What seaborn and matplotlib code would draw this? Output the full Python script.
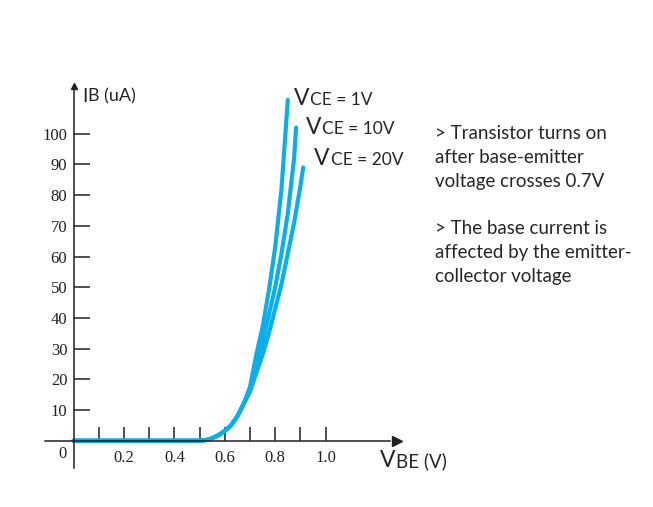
import numpy as np
import pandas as pd
import matplotlib
matplotlib.use("Agg")
import matplotlib.pyplot as plt
import seaborn as sns

# -------------------------------------------------------------------
# data (VBE in V, IB in uA)
# -------------------------------------------------------------------
vbe_start = [0.0, 0.5, 0.525, 0.55, 0.575, 0.6, 0.625, 0.65, 0.675]
ib_start = [0.0, 0.0, 0.2, 0.8, 1.8, 3.2, 5.0, 8.0, 12.0]

vbe_1v = [0.7, 0.725, 0.75, 0.775, 0.8, 0.825, 0.85]
ib_1v = [17.5, 28, 37, 49, 63, 82, 111]

vbe_10v = [0.7, 0.725, 0.75, 0.775, 0.8, 0.825, 0.85, 0.875, 0.883]
ib_10v = [17, 24, 32, 41, 50, 61, 74, 92, 102]

vbe_20v = [0.7, 0.725, 0.75, 0.775, 0.8, 0.825, 0.85, 0.875, 0.9, 0.911]
ib_20v = [16, 22, 28, 35, 43, 51, 61, 71, 83, 89]

curve_names = ["VCE = 1V", "VCE = 10V", "VCE = 20V"]
x_ticks = [0.1, 0.2, 0.3, 0.4, 0.5, 0.6, 0.7, 0.8, 0.9, 1.0]
x_ticklabels = ["", "0.2", "", "0.4", "", "0.6", "", "0.8", "", "1.0"]
y_ticks = [10, 20, 30, 40, 50, 60, 70, 80, 90, 100]

notes = ["> Transistor turns on", "after base-emitter", "voltage crosses 0.7V",
         "> The base current is", "affected by the emitter-", "collector voltage"]

rows = []
for name, xs, ys in zip(curve_names, [vbe_1v, vbe_10v, vbe_20v], [ib_1v, ib_10v, ib_20v]):
    for x, y in zip(vbe_start + xs, ib_start + ys):
        rows.append({"VBE": x, "IB": y, "curve": name})
df = pd.DataFrame(rows)

# -------------------------------------------------------------------
# plot
# -------------------------------------------------------------------
sns.set_style("white")
W, H = 653, 507
fig = plt.figure(figsize=(W / 100, H / 100), dpi=100)
ax = fig.add_axes([0, 0, 1, 1])

blue = "#0AAFEA"
ink = "#231F20"
sns.lineplot(data=df, x="VBE", y="IB", hue="curve", palette=[blue] * 3,
             sort=False, estimator=None, lw=3, legend=False, ax=ax)

# pixel mapping: origin at (73.6, 440.7), 0.1 V = 25.2 px, 10 uA = 30.7 px
x0, y0, sx, sy = 73.6, 440.7, 252.0, 3.07
ax.set_xlim(-x0 / sx, (W - x0) / sx)
ax.set_ylim((y0 - H) / sy, y0 / sy)

for side in ["top", "right"]:
    ax.spines[side].set_visible(False)
ax.spines["left"].set_position(("data", 0))
ax.spines["bottom"].set_position(("data", 0))
ax.spines["bottom"].set_bounds((45 - x0) / sx, (390 - x0) / sx)
ax.spines["left"].set_bounds((y0 - 468) / sy, (y0 - 90) / sy)
for side in ["left", "bottom"]:
    ax.spines[side].set_color(ink)
    ax.spines[side].set_linewidth(1.1)

# arrow heads
ax.plot([(397 - x0) / sx], [0], marker=">", ms=7, color=ink, clip_on=False)
ax.plot([0], [(y0 - 86) / sy], marker="^", ms=5, color=ink, clip_on=False)

serif = "Liberation Serif"
ax.set_xticks(x_ticks)
ax.set_xticklabels(x_ticklabels, fontfamily=serif, fontsize=12, color=ink)
ax.set_yticks(y_ticks)
ax.set_yticklabels([str(t) for t in y_ticks], fontfamily=serif, fontsize=12, color=ink)
ax.tick_params(axis="x", bottom=True, direction="in", length=10, width=1.1, color=ink, pad=7)
ax.tick_params(axis="y", left=True, direction="in", length=11.5, width=1.1, color=ink, pad=4.5)
ax.set_xlabel("")
ax.set_ylabel("")


def px(x, y):
    return x / W, 1 - y / H


renderer = fig.canvas.get_renderer()


def split_label(x, y, big, rest, big_size, rest_size, gap=1.0):
    # a big leading letter followed by the smaller rest of the label
    t = fig.text(*px(x, y), big, fontfamily=sans, fontsize=big_size, ha="left", va="baseline")
    bb = t.get_window_extent(renderer)
    fig.text((bb.x1 + gap) / W, 1 - y / H, rest, fontfamily=sans, fontsize=rest_size,
             ha="left", va="baseline")


sans = "Lato"
fig.text(*px(62.5, 453.5), "0", fontfamily=serif, fontsize=12, color=ink,
         ha="center", va="center")

# axis titles
split_label(82.5, 101.7, "I", "B (uA)", 14, 13, gap=0.5)
split_label(380, 467.3, "V", "BE (V)", 16.5, 13.5)

# curve labels
label_pos = [(294, 105), (305.7, 134.3), (314.3, 165)]
for name, (xv, yb) in zip(curve_names, label_pos):
    split_label(xv, yb, name[0], name[1:], 16.5, 12.5)

# side notes
note_y = [139.3, 163.3, 187.3, 234, 258.3, 281.7]
for line, yb in zip(notes, note_y):
    fig.text(*px(435, yb), line, fontfamily=sans, fontsize=13.5, ha="left", va="baseline")

fig.savefig("out.png", dpi=100)
